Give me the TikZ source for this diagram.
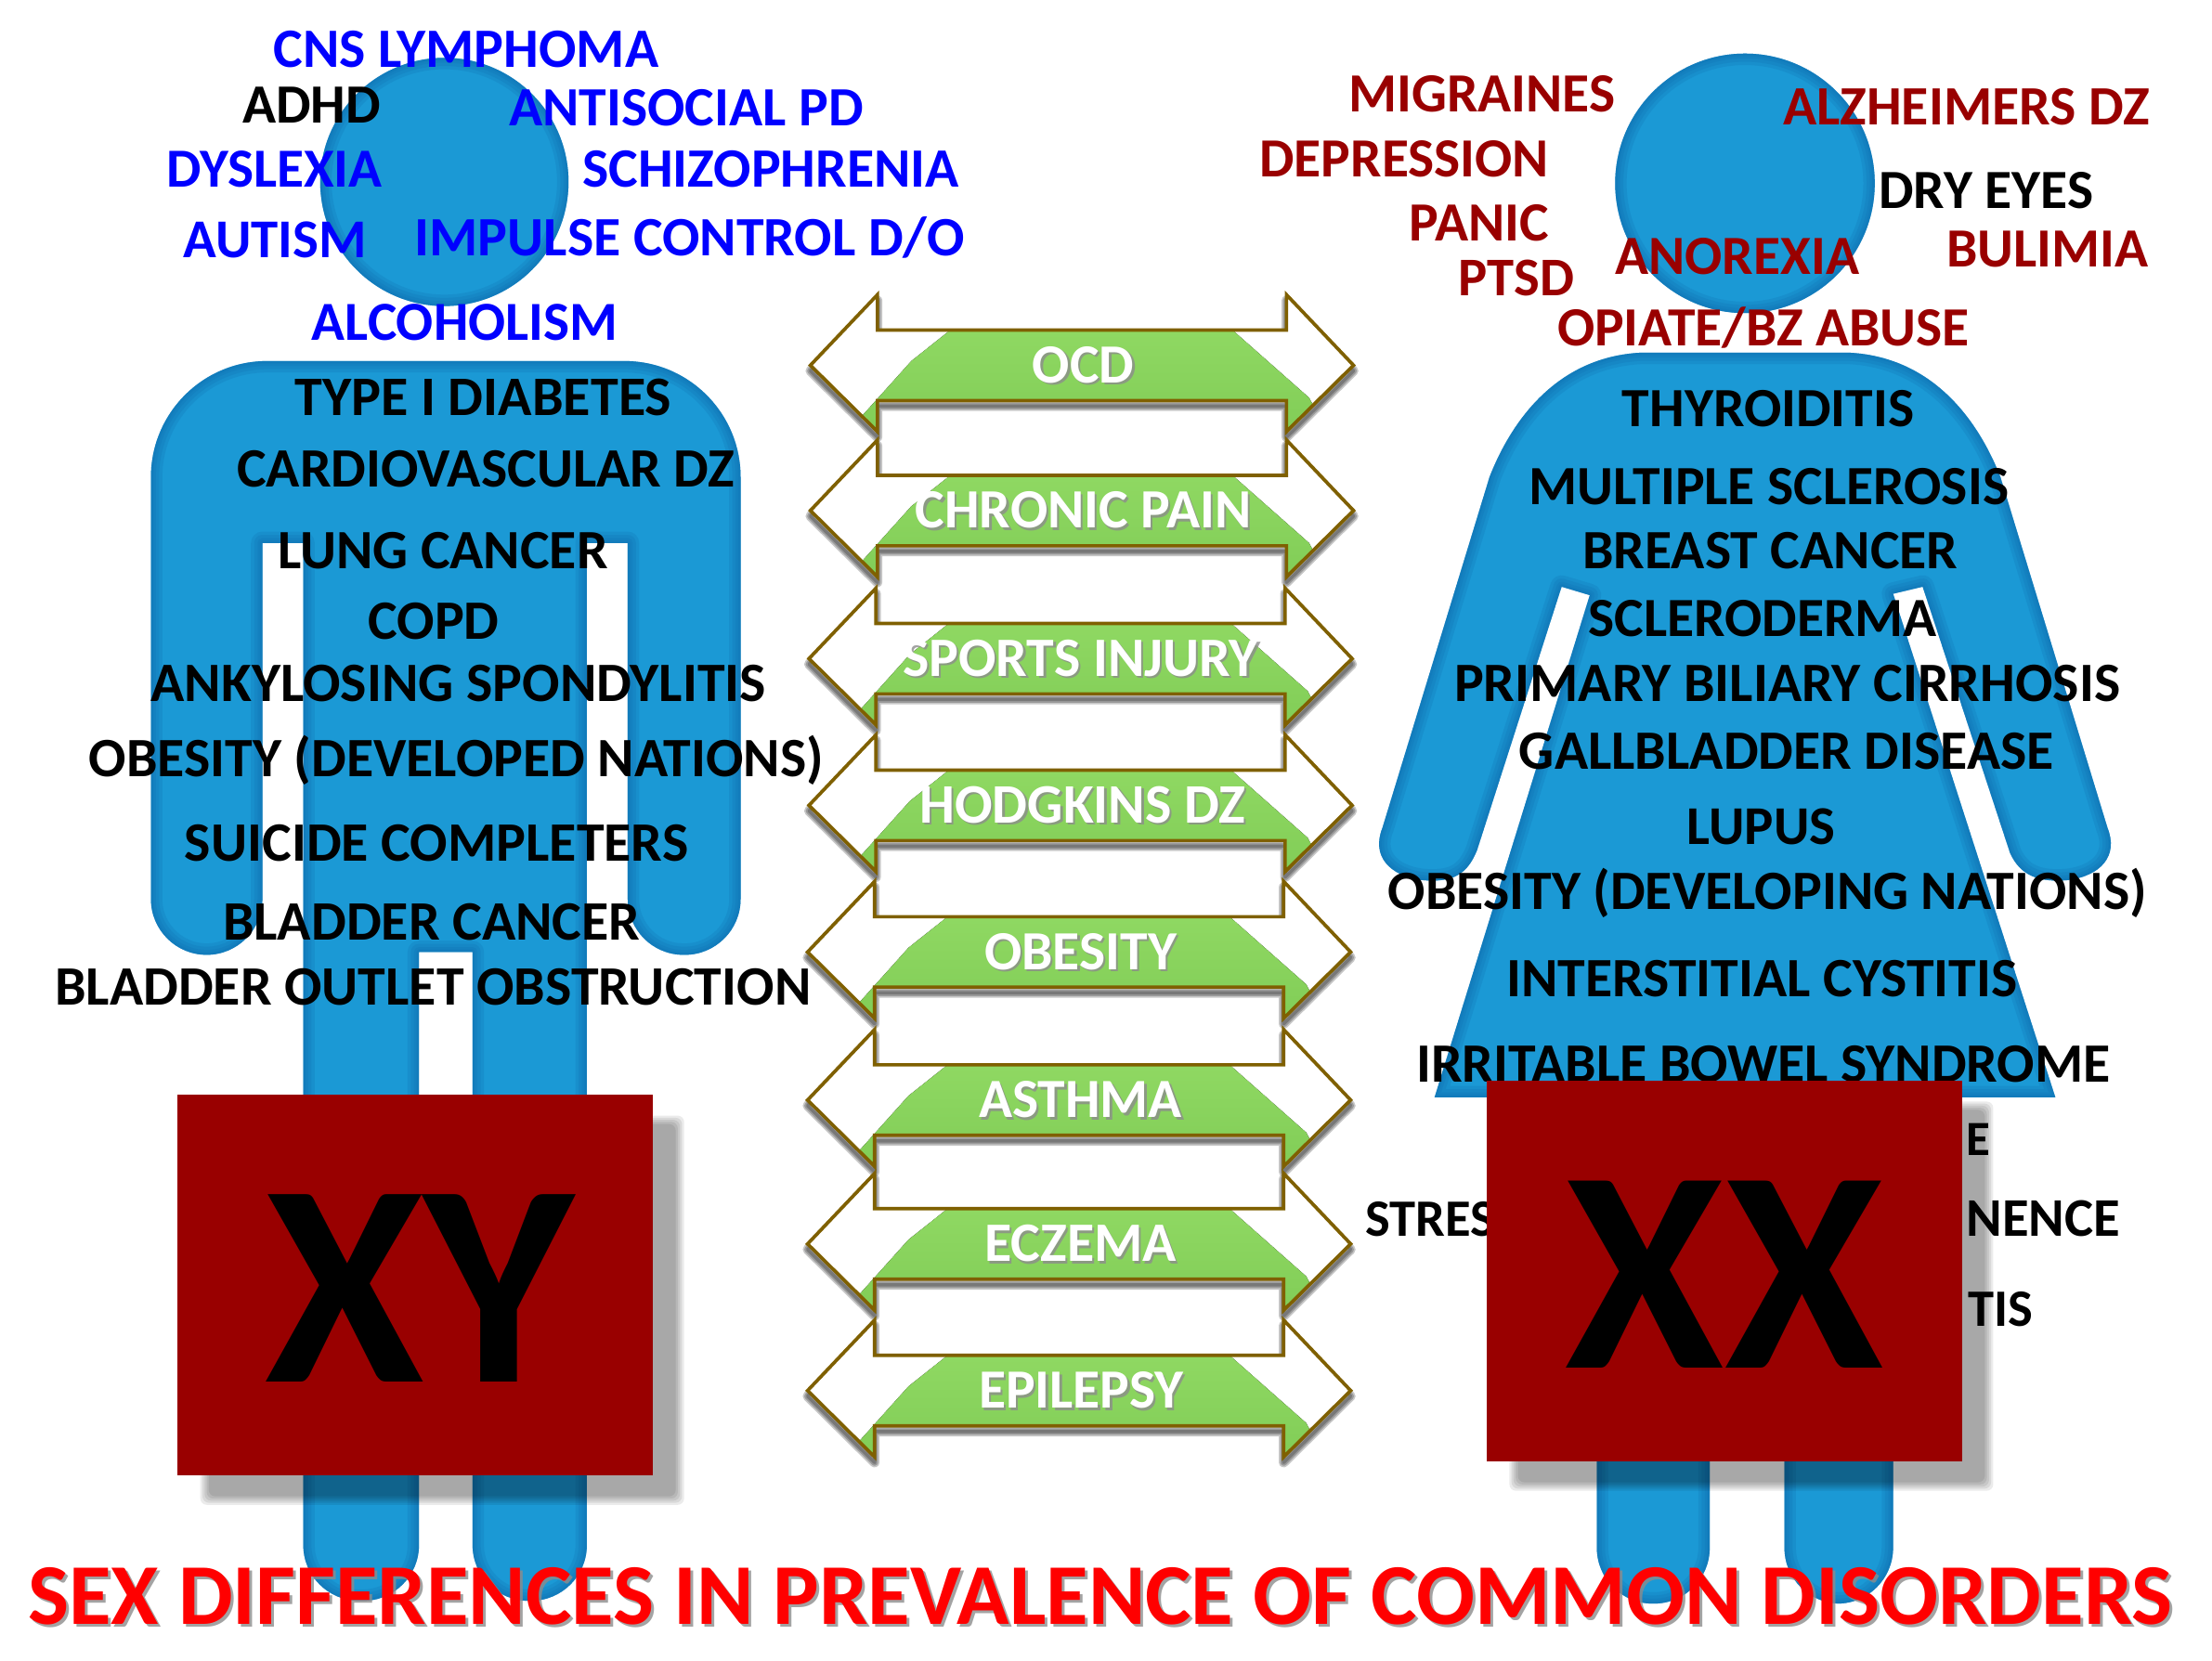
\documentclass[tikz,border=0pt]{standalone}
\usepackage{graphicx}
\usepackage{fontspec}
\setmainfont{Carlito}
\definecolor{figblue}{HTML}{1B99D5}
\definecolor{figedge}{HTML}{0F6DB0}
\definecolor{boxred}{HTML}{990000}
\definecolor{lblue}{HTML}{0000FF}
\definecolor{ldred}{HTML}{990000}
\definecolor{arrowbrown}{HTML}{7F6000}
\definecolor{greentop}{HTML}{90D963}
\definecolor{greenbot}{HTML}{7FCB55}
\tikzset{
  lab/.style={inner sep=0pt,anchor=base},
  chevron/.style={draw=arrowbrown,line width=1.05pt,miter limit=10},
}
\newcommand\lab[6]{% name, left, right, y-centre, colour, text
  \pgfmathsetmacro\lw{(#3-#2)*0.01519}
  \node[lab,text=#5] (#1) at ({(#2+#3)/2},{#4+12.5}) {\resizebox{\lw cm}{!}{\bfseries #6}};}
\newcommand\shlab[7]{% name, left, right, y-centre, colour, shadow offset, text
  \pgfmathsetmacro\lw{(#3-#2)*0.01519}
  \node[lab,text=black!45,opacity=.8] (#1s) at ({(#2+#3)/2+#6},{#4+12.5+#6}) {\resizebox{\lw cm}{!}{\bfseries #7}};
  \node[lab,text=#5] (#1) at ({(#2+#3)/2},{#4+12.5}) {\resizebox{\lw cm}{!}{\bfseries #7}};}
\newcommand\redbox[4]{% left, top, right, bottom
  \foreach \g in {-3,-1.5,0,1.5,3}{
    \fill[black,opacity=.08,rounded corners=2pt] ({#1+19-\g},{#2+18-\g}) rectangle ({#3+19+\g},{#4+18+\g});
  }
  \fill[boxred] (#1,#2) rectangle (#3,#4);
}
% body shape: fill, then a soft darker rim inside the outline
\newcommand\figshape[1]{
  \fill[figblue] #1;
  \begin{scope}
    \clip #1;
    \foreach \w in {7,5,3,1.5}{
      \draw[figedge,opacity=.22,line width=\w pt,line join=round] #1;
    }
  \end{scope}
}
\newcommand\chevpath{(-192.5,0) -- (-145,-50) -- (-145,-25) -- (145,-25) -- (145,-50) -- (192.5,0) -- (145,47) -- (145,25) -- (-145,25) -- (-145,47) -- cycle}
\begin{document}
\begin{tikzpicture}[x=0.01519cm,y=-0.01519cm]
\useasboundingbox (0,0) rectangle (1568.1,1177.1);
\fill[white] (0,0) rectangle (1568.1,1177.1);

% man
\figshape{(315,129) circle[radius=88]}
\figshape{(315,256) [sharp corners] -- (430,256) [rounded corners=1.25cm] -- (525,256) [rounded corners=0.6cm] -- (525,677) -- (445,677) [sharp corners] -- (445,385) -- (416,385) [rounded corners=0.6cm] -- (416,1135) -- (335,1135) [sharp corners] -- (335,675) -- (297,675) [rounded corners=0.6cm] -- (297,1135) -- (215,1135) [sharp corners] -- (215,385) -- (186,385) [rounded corners=0.6cm] -- (186,677) -- (107,677) [rounded corners=1.25cm] -- (107,256) [sharp corners] -- (200,256) -- cycle}

% woman
\figshape{(1237,130) circle[radius=92]}
\figshape{(1132,770) [rounded corners=0.6cm] -- (1132,1137) -- (1212,1137) [sharp corners] -- (1212,770) -- cycle}
\figshape{(1265,770) [rounded corners=0.6cm] -- (1265,1137) -- (1342,1137) [sharp corners] -- (1342,770) -- cycle}
\figshape{(1237,250) -- (1309,250) .. controls (1364,252) and (1399,290) .. (1418,338) -- (1494,587) .. controls (1502,607) and (1489,621) .. (1466,624) .. controls (1444,626) and (1432,620) .. (1425,605) -- (1363,416) -- (1342,421) -- (1457,778) -- (1017,778) -- (1127,422) -- (1107,416) -- (1047,603) .. controls (1040,620) and (1030,626) .. (1008,624) .. controls (985,621) and (972,607) .. (980,587) -- (1056,338) .. controls (1075,290) and (1110,252) .. (1165,250) -- cycle}

% chevrons
\foreach \n/\cx/\cy/\l/\r/\t in {a/767/259/732/804/OCD,b/767/362/649/887/CHRONIC PAIN,c/766/467/640/892/SPORTS INJURY,d/766/571/652/883/HODGKINS DZ,e/765/675/698/834/OBESITY,f/765/780/694/838/ASTHMA,g/765/882/698/834/ECZEMA,h/765/986/694/839/EPILEPSY}{
  \begin{scope}[shift={(\cx,\cy)}]
    \foreach \w in {3,2,1}{
      \draw[black,opacity=.22,line width=\w pt,line join=round,yshift=-0.06cm] \chevpath;
    }
    \fill[white] \chevpath;
    \begin{scope}
      \clip \chevpath;
      \fill[top color=greentop,bottom color=greenbot] (-87,-30) -- (101,-30) -- (118,-15) -- (161,23) -- (170,40) -- (170,60) -- (-170,60) -- (-156,36) -- (-121,-3) -- cycle;
    \end{scope}
    \draw[chevron] \chevpath;
  \end{scope}
  \shlab{arrowlabel\n}{\l}{\r}{\cy}{white}{1.5}{\t}
}

% left labels
\lab{l1}{194}{467}{35}{lblue}{CNS LYMPHOMA}
\lab{l2}{172}{270}{75}{black}{ADHD}
\lab{l3}{361}{612}{77}{lblue}{ANTISOCIAL PD}
\lab{l4}{118}{271}{120}{lblue}{DYSLEXIA}
\lab{l5}{413}{680}{120}{lblue}{SCHIZOPHRENIA}
\lab{l6}{130}{260}{170}{lblue}{AUTISM}
\lab{l7}{294}{684}{169}{lblue}{IMPULSE CONTROL D/O}
\lab{l8}{221}{438}{229}{lblue}{ALCOHOLISM}
\lab{l9}{209}{476}{282}{black}{TYPE I DIABETES}
\lab{l10}{168}{521}{333}{black}{CARDIOVASCULAR DZ}
\lab{l11}{197}{431}{391}{black}{LUNG CANCER}
\lab{l12}{261}{354}{441}{black}{COPD}
\lab{l13}{107}{543}{485}{black}{ANKYLOSING SPONDYLITIS}
\lab{l14}{63}{584}{538}{black}{OBESITY (DEVELOPED NATIONS)}
\lab{l15}{131}{488}{598}{black}{SUICIDE COMPLETERS}
\lab{l16}{158}{454}{654}{black}{BLADDER CANCER}
\lab{l17}{39}{575}{700}{black}{BLADDER OUTLET OBSTRUCTION}

% right labels
\lab{r1}{956}{1145}{67}{ldred}{MIGRAINES}
\lab{r2}{1264}{1524}{76}{ldred}{ALZHEIMERS DZ}
\lab{r3}{893}{1098}{113}{ldred}{DEPRESSION}
\lab{r4}{1332}{1484}{135}{black}{DRY EYES}
\lab{r5}{999}{1098}{158}{ldred}{PANIC}
\lab{r6}{1034}{1116}{197}{ldred}{PTSD}
\lab{r7}{1145}{1318}{182}{ldred}{ANOREXIA}
\lab{r8}{1380}{1523}{177}{ldred}{BULIMIA}
\lab{r9}{1104}{1396}{233}{ldred}{OPIATE/BZ ABUSE}
\lab{r10}{1150}{1357}{290}{black}{THYROIDITIS}
\lab{r11}{1084}{1424}{345}{black}{MULTIPLE SCLEROSIS}
\lab{r12}{1122}{1388}{391}{black}{BREAST CANCER}
\lab{r13}{1126}{1373}{439}{black}{SCLERODERMA}
\lab{r14}{1031}{1503}{485}{black}{PRIMARY BILIARY CIRRHOSIS}
\lab{r15}{1077}{1456}{533}{black}{GALLBLADDER DISEASE}
\lab{r16}{1196}{1301}{586}{black}{LUPUS}
\lab{r17}{984}{1522}{632}{black}{OBESITY (DEVELOPING NATIONS)}
\lab{r18}{1068}{1430}{694}{black}{INTERSTITIAL CYSTITIS}
\lab{r19}{1004}{1496}{755}{black}{IRRITABLE BOWEL SYNDROME}
\lab{r20}{1394}{1411}{807}{black}{E}
\lab{r21a}{968}{1060}{864}{black}{STRES}
\lab{r21b}{1394}{1503}{864}{black}{NENCE}
\lab{r22}{1395}{1441}{928}{black}{TIS}

% red boxes
\redbox{126}{776}{463}{1046}
\redbox{1054}{766}{1391}{1036}
\node[inner sep=0pt,anchor=base,text=black] (xylabel) at (297.5,980) {\resizebox{3.33cm}{!}{\bfseries XY}};
\node[inner sep=0pt,anchor=base,text=black] (xxlabel) at (1222.5,970) {\resizebox{3.42cm}{!}{\bfseries XX}};

% title
\pgfmathsetmacro\tw{1520*0.01519}
\node[inner sep=0pt,anchor=base,text=black!45,opacity=.8] (titleshadow) at (782,1154) {\resizebox{\tw cm}{!}{\bfseries SEX DIFFERENCES IN PREVALENCE OF COMMON DISORDERS}};
\node[inner sep=0pt,anchor=base,text=red] (title) at (780,1152) {\resizebox{\tw cm}{!}{\bfseries SEX DIFFERENCES IN PREVALENCE OF COMMON DISORDERS}};
\end{tikzpicture}
\end{document}
